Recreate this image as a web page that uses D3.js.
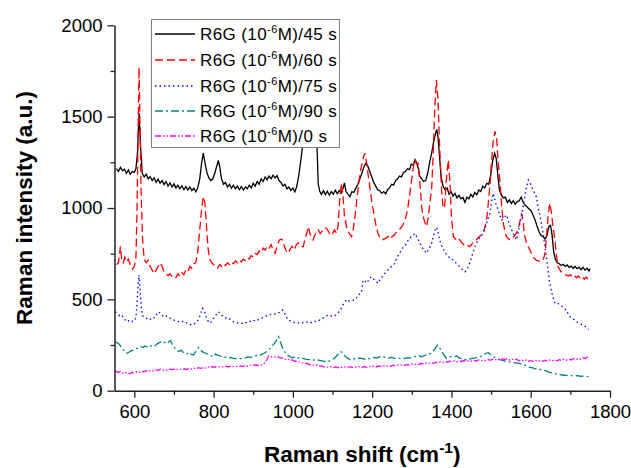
<!DOCTYPE html>
<html><head><meta charset="utf-8">
<script src="https://cdn.jsdelivr.net/npm/d3@7"></script>
<style>body{margin:0;background:#fff}svg{display:block}text{font-family:Arial,"Liberation Sans",sans-serif}</style>
</head><body><svg id="c" width="631" height="468"></svg>
<script>
const xTicks = [600, 800, 1000, 1200, 1400, 1600, 1800];
const yTicks = [0, 500, 1000, 1500, 2000];
const seriesNames = ["45 s", "60 s", "75 s", "90 s", "0 s"];
const seriesColors = ["#000000", "#ff0000", "#0000ff", "#008080", "#ff00ff"];

const s45 = [[555,1215],[560,1200],[565,1222],[570,1205],[575,1212],[580,1190],[585,1208],[590,1185],[595,1200],[600,1195],[604,1215],[608,1300],[612,1520],[616,1330],[620,1190],[625,1170],[630,1185],[635,1160],[640,1172],[645,1150],[650,1165],[655,1140],[660,1158],[665,1135],[670,1150],[675,1128],[680,1145],[685,1120],[690,1138],[695,1115],[700,1132],[705,1110],[710,1125],[715,1105],[720,1122],[725,1100],[730,1118],[735,1098],[740,1115],[745,1095],[750,1108],[755,1088],[760,1110],[765,1160],[770,1250],[774,1300],[778,1250],[783,1195],[788,1165],[793,1150],[798,1160],[803,1190],[808,1230],[812,1260],[816,1220],[820,1160],[825,1130],[830,1140],[835,1115],[840,1130],[845,1108],[850,1125],[855,1105],[860,1120],[865,1100],[870,1118],[875,1098],[880,1115],[885,1105],[890,1125],[895,1110],[900,1135],[905,1120],[910,1145],[915,1130],[920,1160],[925,1145],[930,1170],[935,1155],[940,1175],[945,1160],[950,1180],[955,1165],[960,1178],[965,1150],[970,1140],[975,1120],[980,1130],[985,1105],[990,1115],[995,1095],[1000,1110],[1005,1088],[1010,1120],[1015,1180],[1020,1260],[1025,1350],[1030,1460],[1035,1560],[1040,1640],[1045,1700],[1050,1720],[1055,1650],[1060,1400],[1064,1130],[1068,1090],[1072,1075],[1077,1095],[1082,1072],[1087,1092],[1092,1070],[1097,1090],[1102,1075],[1107,1098],[1112,1078],[1117,1095],[1122,1082],[1127,1110],[1130,1138],[1134,1090],[1139,1075],[1144,1062],[1149,1090],[1154,1085],[1159,1110],[1164,1130],[1169,1160],[1174,1190],[1179,1225],[1184,1245],[1189,1230],[1194,1200],[1199,1170],[1204,1140],[1209,1120],[1214,1100],[1219,1095],[1224,1080],[1229,1090],[1234,1078],[1239,1100],[1244,1110],[1249,1130],[1254,1125],[1259,1150],[1264,1160],[1269,1175],[1274,1170],[1279,1195],[1284,1200],[1289,1215],[1294,1210],[1299,1240],[1304,1235],[1308,1265],[1312,1250],[1316,1220],[1320,1175],[1325,1160],[1330,1145],[1335,1150],[1340,1190],[1345,1250],[1350,1300],[1355,1360],[1360,1410],[1363,1430],[1366,1390],[1370,1280],[1374,1170],[1379,1118],[1384,1100],[1389,1110],[1394,1075],[1399,1090],[1404,1065],[1409,1080],[1414,1055],[1419,1070],[1424,1050],[1429,1058],[1434,1030],[1439,1060],[1444,1050],[1449,1075],[1454,1060],[1459,1085],[1464,1072],[1469,1098],[1474,1090],[1479,1120],[1484,1110],[1489,1135],[1494,1130],[1499,1180],[1504,1260],[1509,1300],[1513,1270],[1517,1180],[1521,1100],[1526,1070],[1531,1055],[1536,1060],[1541,1030],[1546,1045],[1551,1025],[1556,1040],[1561,1020],[1566,1035],[1571,1040],[1576,1060],[1581,1030],[1586,1015],[1591,1005],[1596,995],[1601,985],[1606,960],[1611,935],[1616,900],[1621,870],[1626,850],[1631,845],[1636,830],[1641,850],[1646,900],[1650,905],[1654,850],[1658,760],[1662,720],[1667,700],[1672,695],[1677,685],[1682,692],[1687,680],[1692,688],[1697,675],[1702,682],[1707,670],[1712,680],[1717,668],[1722,676],[1727,662],[1732,675],[1737,660],[1742,670],[1747,655],[1750,668]];

const s60 = [[555,690],[560,700],[565,790],[568,720],[572,700],[576,730],[580,705],[585,720],[590,690],[595,665],[600,680],[604,720],[607,1000],[610,1500],[612,1770],[614,1500],[617,1100],[621,820],[625,720],[630,700],[635,715],[640,680],[645,660],[650,640],[655,660],[660,680],[665,700],[670,680],[675,650],[680,640],[685,630],[690,640],[695,625],[700,630],[705,620],[710,640],[715,625],[720,645],[725,635],[730,660],[735,650],[740,680],[745,670],[750,695],[755,700],[760,760],[765,880],[770,1000],[774,1062],[778,1030],[782,900],[786,780],[790,720],[795,700],[800,690],[805,680],[810,670],[815,690],[820,680],[825,695],[830,685],[835,700],[840,690],[845,705],[850,695],[855,710],[860,700],[865,715],[870,705],[875,720],[880,712],[885,728],[890,720],[895,740],[900,730],[905,750],[910,745],[915,765],[920,755],[925,780],[930,770],[935,790],[940,780],[945,800],[950,770],[955,752],[960,790],[966,825],[972,830],[977,800],[982,770],[988,752],[993,775],[998,790],[1003,770],[1009,800],[1014,810],[1020,790],[1026,788],[1032,840],[1036,870],[1039,898],[1043,860],[1047,840],[1051,825],[1055,850],[1060,870],[1064,880],[1069,860],[1074,875],[1079,890],[1085,889],[1090,870],[1095,850],[1100,860],[1105,880],[1110,861],[1114,900],[1118,1040],[1122,1135],[1126,1080],[1130,960],[1135,900],[1140,870],[1145,850],[1148,843],[1152,880],[1157,960],[1162,1060],[1167,1150],[1172,1220],[1177,1270],[1181,1300],[1185,1260],[1190,1180],[1195,1100],[1200,1020],[1205,960],[1210,900],[1215,860],[1220,835],[1225,825],[1230,830],[1235,835],[1240,845],[1245,830],[1250,843],[1255,850],[1260,865],[1265,870],[1270,885],[1275,898],[1280,920],[1285,950],[1290,1000],[1295,1080],[1300,1160],[1305,1240],[1308,1263],[1312,1240],[1316,1245],[1320,1150],[1325,1000],[1329,952],[1333,920],[1337,898],[1341,940],[1345,1020],[1350,1100],[1354,1300],[1358,1550],[1362,1700],[1366,1600],[1370,1350],[1375,1100],[1379,998],[1383,1010],[1387,1150],[1392,1263],[1396,1150],[1400,950],[1405,843],[1410,830],[1415,840],[1421,825],[1426,810],[1431,800],[1436,790],[1441,795],[1446,788],[1451,800],[1456,815],[1463,825],[1468,840],[1474,850],[1480,861],[1485,900],[1490,960],[1494,1050],[1498,1150],[1501,1250],[1505,1360],[1510,1420],[1514,1380],[1518,1250],[1522,1153],[1527,1000],[1531,916],[1536,860],[1541,835],[1548,825],[1556,840],[1564,862],[1570,900],[1577,971],[1581,920],[1585,843],[1591,800],[1598,770],[1604,740],[1609,725],[1614,715],[1620,710],[1627,706],[1632,720],[1636,752],[1640,850],[1644,960],[1648,1026],[1652,980],[1656,900],[1661,825],[1665,740],[1669,679],[1675,655],[1680,645],[1685,635],[1690,633],[1695,628],[1700,635],[1705,622],[1710,630],[1715,618],[1720,628],[1725,615],[1730,625],[1735,610],[1740,622],[1745,608],[1750,618]];

const s75 = [[552,432],[558,420],[563,410],[568,415],[573,395],[577,387],[582,392],[587,380],[592,385],[596,378],[600,382],[604,400],[607,480],[610,600],[612,633],[615,540],[618,450],[621,410],[624,405],[630,395],[636,400],[642,388],[648,395],[654,410],[660,432],[666,425],[672,410],[678,415],[684,400],[690,398],[696,390],[702,385],[708,380],[714,378],[720,382],[726,370],[732,372],[738,365],[744,360],[750,365],[756,372],[762,390],[767,420],[772,451],[776,440],[780,410],[785,385],[790,370],[795,378],[800,395],[806,415],[812,432],[818,420],[824,405],[830,400],[836,390],[842,392],[848,380],[854,375],[860,370],[866,372],[872,368],[878,375],[884,372],[890,380],[896,378],[902,385],[908,380],[914,390],[920,395],[926,402],[932,408],[938,412],[944,418],[950,415],[956,420],[962,424],[968,430],[974,442],[978,430],[983,405],[988,387],[994,382],[1000,376],[1006,372],[1012,369],[1018,375],[1024,372],[1030,378],[1036,376],[1042,378],[1048,372],[1054,380],[1060,378],[1066,385],[1072,392],[1078,400],[1084,410],[1090,414],[1096,410],[1102,406],[1108,414],[1114,425],[1120,442],[1126,470],[1131,487],[1137,500],[1143,490],[1150,495],[1157,496],[1163,515],[1168,528],[1173,540],[1177,606],[1182,600],[1187,590],[1193,615],[1199,624],[1204,610],[1209,600],[1215,588],[1220,610],[1226,625],[1232,642],[1238,655],[1243,670],[1249,679],[1255,690],[1261,720],[1267,745],[1274,770],[1280,790],[1285,800],[1291,825],[1297,840],[1303,850],[1308,861],[1313,840],[1319,815],[1325,788],[1331,770],[1337,752],[1343,775],[1350,807],[1355,850],[1359,880],[1363,895],[1367,860],[1371,820],[1376,790],[1382,765],[1388,743],[1394,730],[1400,720],[1405,715],[1411,700],[1416,690],[1421,679],[1427,665],[1434,651],[1440,665],[1446,697],[1452,740],[1458,780],[1463,807],[1470,835],[1476,850],[1480,861],[1486,900],[1492,940],[1497,971],[1501,1030],[1505,1080],[1510,1040],[1514,1010],[1518,989],[1522,960],[1527,934],[1533,950],[1539,962],[1545,920],[1552,880],[1558,850],[1564,825],[1569,870],[1573,920],[1577,952],[1581,1010],[1585,1062],[1589,1110],[1594,1153],[1598,1140],[1602,1117],[1608,1090],[1614,1062],[1620,990],[1627,916],[1632,850],[1636,788],[1642,690],[1648,588],[1655,520],[1661,478],[1667,480],[1673,470],[1680,460],[1686,451],[1692,430],[1699,405],[1705,395],[1712,385],[1718,375],[1724,369],[1730,360],[1736,355],[1741,348],[1746,335]];

const s90 = [[552,268],[557,262],[562,255],[567,240],[572,225],[577,210],[582,205],[587,212],[592,218],[597,222],[602,228],[607,232],[612,238],[617,242],[622,236],[627,245],[632,240],[637,248],[642,244],[647,250],[652,246],[657,255],[662,262],[667,268],[672,260],[677,265],[682,258],[687,268],[691,275],[695,258],[699,240],[703,232],[708,218],[713,215],[718,222],[723,210],[728,208],[733,202],[738,210],[743,200],[749,195],[754,210],[758,225],[762,236],[766,225],[770,215],[775,210],[780,205],[785,200],[790,195],[795,190],[799,186],[805,200],[810,195],[815,190],[820,188],[826,182],[832,185],[838,178],[844,182],[850,177],[856,175],[862,173],[868,176],[874,178],[880,180],[886,185],[892,182],[898,186],[904,190],[910,195],[916,192],[922,200],[928,205],[934,214],[940,225],[946,240],[952,255],[957,270],[961,285],[964,296],[968,270],[972,245],[977,220],[982,205],[988,192],[993,186],[999,180],[1005,185],[1011,178],[1017,182],[1022,177],[1028,175],[1034,172],[1040,170],[1046,172],[1052,168],[1058,170],[1064,168],[1070,165],[1076,162],[1081,159],[1087,165],[1093,162],[1099,170],[1105,178],[1110,190],[1116,205],[1121,214],[1126,205],[1132,188],[1138,178],[1143,172],[1148,168],[1154,175],[1160,172],[1167,178],[1173,177],[1180,172],[1186,180],[1193,175],[1199,177],[1205,182],[1212,178],[1218,185],[1224,190],[1230,185],[1236,180],[1242,178],[1249,182],[1255,178],[1261,175],[1268,178],[1274,173],[1280,176],[1287,180],[1294,178],[1300,182],[1306,188],[1313,185],[1319,190],[1325,186],[1331,192],[1337,195],[1344,200],[1350,208],[1355,220],[1360,235],[1365,250],[1369,240],[1373,225],[1378,205],[1383,190],[1388,177],[1394,182],[1400,188],[1406,185],[1413,190],[1419,180],[1425,175],[1431,172],[1438,168],[1444,172],[1450,175],[1456,178],[1462,180],[1467,184],[1472,186],[1478,192],[1483,198],[1488,205],[1493,208],[1498,200],[1503,190],[1509,182],[1514,177],[1520,172],[1526,168],[1532,165],[1539,159],[1545,158],[1551,156],[1557,154],[1564,152],[1570,150],[1576,148],[1582,142],[1588,138],[1593,132],[1598,128],[1605,125],[1611,120],[1618,118],[1625,115],[1632,113],[1639,108],[1646,102],[1653,98],[1660,94],[1665,91],[1672,88],[1680,86],[1688,84],[1695,83],[1702,82],[1710,80],[1718,82],[1726,79],[1734,80],[1741,78],[1747,77]];

const s0 = [[552,109],[558,100],[564,105],[570,96],[576,102],[582,94],[588,92],[594,100],[600,96],[606,104],[612,100],[618,108],[624,103],[630,110],[636,105],[642,112],[648,108],[654,115],[660,110],[666,118],[672,112],[678,116],[684,110],[690,118],[696,114],[702,120],[708,115],[714,118],[720,114],[726,120],[732,116],[738,122],[744,118],[750,124],[756,120],[762,126],[768,122],[774,128],[780,124],[786,130],[792,126],[796,132],[802,128],[808,134],[814,130],[820,132],[826,128],[832,134],[838,130],[844,136],[850,132],[856,135],[862,130],[868,136],[874,132],[880,138],[886,134],[892,140],[898,136],[904,142],[910,138],[916,144],[922,141],[928,150],[934,168],[939,190],[945,186],[951,188],[957,182],[963,185],[969,178],[975,180],[981,172],[987,175],[993,166],[999,168],[1005,160],[1012,162],[1018,155],[1024,152],[1030,148],[1036,150],[1042,142],[1048,144],[1054,138],[1060,140],[1066,134],[1072,136],[1078,130],[1084,132],[1090,128],[1096,132],[1102,126],[1108,130],[1114,125],[1120,130],[1126,126],[1132,131],[1138,127],[1144,132],[1150,126],[1156,130],[1162,128],[1168,132],[1174,127],[1180,133],[1186,128],[1192,134],[1198,130],[1204,135],[1210,130],[1216,136],[1222,132],[1228,137],[1234,133],[1240,138],[1246,134],[1252,140],[1258,136],[1264,141],[1270,137],[1276,142],[1282,138],[1288,144],[1294,140],[1300,146],[1306,142],[1312,148],[1318,144],[1324,150],[1330,146],[1336,152],[1342,148],[1348,154],[1354,150],[1360,156],[1366,152],[1372,158],[1378,154],[1384,160],[1390,156],[1396,162],[1402,158],[1408,163],[1414,158],[1420,164],[1426,160],[1432,165],[1438,160],[1444,166],[1450,161],[1456,166],[1462,162],[1468,168],[1474,163],[1480,169],[1486,165],[1492,171],[1498,166],[1504,172],[1510,168],[1516,174],[1522,168],[1528,175],[1534,170],[1540,175],[1546,168],[1552,174],[1558,166],[1564,172],[1570,164],[1576,170],[1582,162],[1588,168],[1594,160],[1600,166],[1606,160],[1612,166],[1618,160],[1624,166],[1630,161],[1636,167],[1642,162],[1648,168],[1654,163],[1660,169],[1666,164],[1672,170],[1678,165],[1684,172],[1690,167],[1696,174],[1702,168],[1708,175],[1714,170],[1720,177],[1726,172],[1732,180],[1738,176],[1744,186],[1748,190]];

const allSeries = [s45, s60, s75, s90, s0];
const dashes = [null, "8,4", "1.5,3", "8,3,2,3", "6,2,1.5,2,1.5,2"];

const svg = d3.select("#c");
const x = d3.scaleLinear().domain([550, 1800]).range([114.5, 610]);
const y = d3.scaleLinear().domain([0, 2000]).range([390.7, 25.3]);

const line = d3.line().x(d => x(d[0])).y(d => y(d[1]));
const g = svg.append("g");
allSeries.forEach((s, i) => {
  g.append("path").datum(s).attr("d", line).attr("fill", "none")
    .attr("stroke", seriesColors[i]).attr("stroke-width", 1.3)
    .attr("stroke-dasharray", dashes[i]);
});

// axes
const axC = "#222";
svg.append("g").attr("transform", `translate(0,${y(0)})`)
  .call(d3.axisBottom(x).tickValues(xTicks).tickSize(7).tickSizeOuter(0).tickPadding(7).tickFormat(d3.format("d")));
svg.append("g").attr("transform", `translate(0,${y(0)})`)
  .call(d3.axisBottom(x).tickValues(d3.range(700, 1800, 200)).tickSize(4).tickSizeOuter(0).tickFormat(""))
  .call(a => a.select(".domain").remove());
svg.append("g").attr("transform", `translate(${x(550)},0)`)
  .call(d3.axisLeft(y).tickValues(yTicks).tickSize(7).tickSizeOuter(0).tickPadding(5).tickFormat(d3.format("d")));
svg.append("g").attr("transform", `translate(${x(550)},0)`)
  .call(d3.axisLeft(y).tickValues([250, 750, 1250, 1750]).tickSize(4).tickSizeOuter(0).tickFormat(""))
  .call(a => a.select(".domain").remove());
svg.selectAll(".domain").attr("stroke", axC).attr("stroke-width", 1.5);
svg.selectAll(".tick line").attr("stroke", axC).attr("stroke-width", 1.3);
svg.selectAll(".tick text").attr("font-size", 18.5).attr("fill", "#000").attr("font-family", "Arial, 'Liberation Sans', sans-serif");

// axis titles
const xt = svg.append("text").attr("x", (x(550) + x(1800)) / 2).attr("y", 462)
  .attr("text-anchor", "middle").attr("font-weight", "bold").attr("font-size", 22.5);
xt.append("tspan").text("Raman shift (cm");
xt.append("tspan").attr("font-size", 15.5).attr("dy", -9).text("-1");
xt.append("tspan").attr("dy", 9).text(")");
svg.append("text").attr("transform", `translate(32,${(y(0) + y(2000)) / 2}) rotate(-90)`)
  .attr("text-anchor", "middle").attr("font-weight", "bold").attr("font-size", 22.5)
  .text("Raman intensity (a.u.)");

// legend
const lg = svg.append("g");
lg.append("rect").attr("x", 151.5).attr("y", 19.5).attr("width", 188).attr("height", 128)
  .attr("fill", "#fff").attr("stroke", "#808080").attr("stroke-width", 1);
const rowY = [34, 60, 86, 111, 136];
seriesNames.forEach((n, i) => {
  lg.append("line").attr("x1", 155).attr("x2", 195).attr("y1", rowY[i]).attr("y2", rowY[i])
    .attr("stroke", seriesColors[i]).attr("stroke-width", 1.3).attr("stroke-dasharray", dashes[i]);
  const t = lg.append("text").attr("x", 200).attr("y", rowY[i] + 6).attr("font-size", 17)
    .attr("letter-spacing", 0.4);
  t.append("tspan").text("R6G (10");
  t.append("tspan").attr("font-size", 11).attr("dy", -7).text("-6");
  t.append("tspan").attr("dy", 7).text("M)/" + n);
});
</script></body></html>
